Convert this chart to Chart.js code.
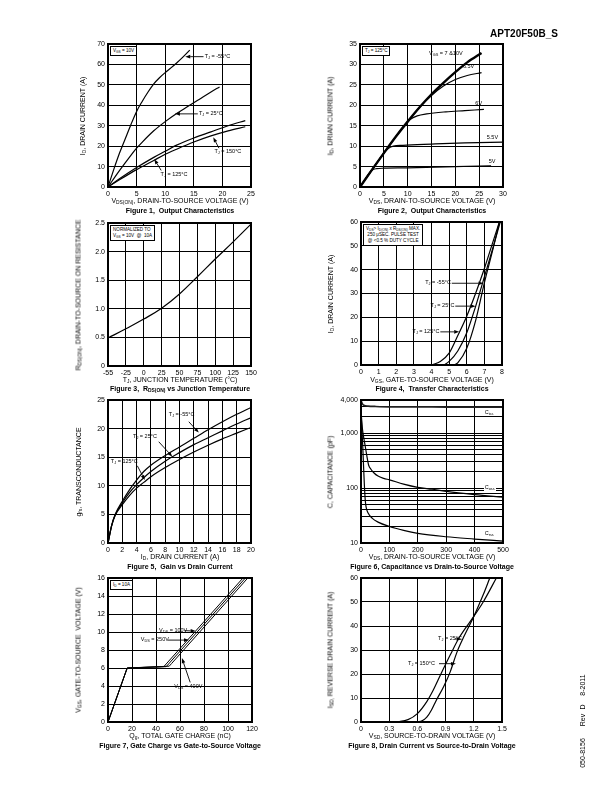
<!DOCTYPE html>
<html><head><meta charset="utf-8"><title>APT20F50B_S</title>
<script src="https://cdn.jsdelivr.net/npm/chart.js@4.4.1/dist/chart.umd.min.js"></script>
<style>
html,body{margin:0;padding:0;background:#fff}
#page{position:relative;width:612px;height:792px;overflow:hidden;font-family:"Liberation Sans",Arial,Helvetica,sans-serif;color:#000}
.t{position:absolute;white-space:nowrap;font-size:7px;line-height:1}
.t sub,.box sub{font-size:70%;vertical-align:-0.3em;line-height:0}
.b{font-weight:bold}
.n{font-size:5.5px}
.box{position:absolute;border:1px solid #000;background:#fff;font-size:4.6px;line-height:1.3;padding:1px 2px;white-space:nowrap}
canvas{position:absolute}
</style></head><body><div id="page"></div>
<script>
// ---------------- DATA ----------------
// Figure 1 - Output characteristics (VGS=10V)
const f1_vds_m55=[0,1,2,3,4,5,6,7,8,9,10,11,12,13,14.3];
const f1_id_m55 =[0,8.5,16.5,23.5,30.5,37,42,46.5,50.5,53.5,56,58.3,60.7,63.3,67];
const f1_vds_25 =[0,2,4,5,6,8,10,12,14,16,18,19.5];
const f1_id_25  =[0,8,15.5,19,22,27.5,32,36,39.5,43,46.5,49];
const f1_vds_125=[0,2,5,8,10,12,15,18,21,24];
const f1_id_125 =[0,4,9.5,14.5,17.5,20.5,24,27,30,32.5];
const f1_vds_150=[0,2,5,8,10,12,15,18,21,24];
const f1_id_150 =[0,3.5,8.5,13,16,18.5,22,25,27.5,29.5];
const f1_xticks=[0,5,10,15,20,25];
const f1_yticks=[0,10,20,30,40,50,60,70];
// Figure 2 - Output characteristics (TJ=125C)
const f2_vds_710=[0,2.5,5,7.5,10,12.5,15,17.5,20,22.5,25.5];
const f2_id_710 =[0,4.2,8.3,12.3,16,19.5,22.7,25.5,28.1,30.5,32.8];
const f2_vds_65 =[0,2.5,5,7.5,10,12.5,15,17.5,20,22.5,25.5];
const f2_id_65  =[0,4.2,8.3,12.3,16,19.5,22.4,24.7,26.3,27.3,28];
const f2_vds_6  =[0,2.5,5,7.5,9,10.5,12,14,18,22,26];
const f2_id_6   =[0,4.2,8.3,12.3,14.6,16.5,17.4,17.9,18.4,18.7,19];
const f2_vds_55 =[0,2.5,4,5,6,7,9,15,22,30];
const f2_id_55  =[0,4.2,6.7,8.3,9.5,10,10.2,10.5,10.8,11];
const f2_vds_5  =[0,2.5,3.5,5,10,20,27.5];
const f2_id_5   =[0,4.1,4.5,4.6,4.7,5,5.2];
const f2_xticks=[0,5,10,15,20,25,30];
const f2_yticks=[0,5,10,15,20,25,30,35];
// Figure 3 - RDS(on) vs junction temperature
const f3_temps=['-55','-25','0','25','50','75','100','125','150'];
const f3_rds  =[0.49,0.65,0.82,1.01,1.26,1.56,1.87,2.17,2.48];
const f3_yticks=[0,0.5,1,1.5,2,2.5];
const f3_ylabels=['0','0.5','1.0','1.5','2.0','2.5'];
// Figure 4 - Transfer characteristics
const f4_vgs_125=[4.0,4.5,5.0,5.5,6.0,6.5,7.0,7.5,7.85];
const f4_id_125 =[0,1.5,5,12.5,20.5,30,40.5,52,60];
const f4_vgs_25 =[4.7,5.0,5.5,6.0,6.5,7.0,7.5,7.9];
const f4_id_25  =[0,1.5,6,13.5,24.5,37,49.5,60];
const f4_vgs_m55=[5.3,5.5,6.0,6.5,7.0,7.5,7.85];
const f4_id_m55 =[0,1,7,18.5,34.5,49,60];
const f4_xticks=[0,1,2,3,4,5,6,7,8];
const f4_yticks=[0,10,20,30,40,50,60];
// Figure 5 - Gain vs drain current
const f5_id=[0,0.5,1,2,3,4,5,6,8,10,12,14,16,18,20];
const f5_gfs_m55=[0,3,5,7.3,9.3,11,12.5,13.6,15.3,16.8,18.3,19.8,21.2,22.5,23.7];
const f5_gfs_25 =[0,3,4.9,7,8.8,10.2,11.4,12.5,14.3,15.8,17.2,18.4,19.6,20.8,21.9];
const f5_gfs_125=[0,3,4.8,6.7,8.3,9.6,10.6,11.6,13.2,14.6,15.9,17.1,18.2,19.2,20.2];
const f5_xticks=[0,2,4,6,8,10,12,14,16,18,20];
const f5_yticks=[0,5,10,15,20,25];
// Figure 6 - Capacitance vs VDS
const f6_vds_ciss=[0,5,10,25,50,100,200,300,400,500];
const f6_ciss    =[3900,3400,3200,3100,3050,3000,3000,2980,2980,2970];
const f6_vds_coss=[0,5,10,15,20,27,35,45,60,80,100,150,200,250,300,400,500];
const f6_coss    =[2500,1200,800,575,400,260,220,190,165,150,141,118,103,95,87,76,68];
const f6_vds_crss=[0,3,6,9,12,15,18,25,40,60,100,150,200,300,400,500];
const f6_crss    =[2500,1200,600,250,110,60,45,35,28,24,20,17,15,13,11.8,10.8];
const f6_xticks=[0,100,200,300,400,500];
const f6_yticks=[10,20,30,40,50,60,70,80,90,100,200,300,400,500,600,700,800,900,1000,2000,3000,4000];
const f6_ylabelsAt={10:'10',100:'100',1000:'1,000',4000:'4,000'};
// Figure 7 - Gate charge
const f7_qg_100=[0,16,46.5,48.5,112.5];
const f7_vgs_100=[0,6,6.15,6.45,16];
const f7_qg_250=[0,16,48.5,50.5,114.5];
const f7_vgs_250=[0,6,6.15,6.45,16];
const f7_qg_400=[0,16,51,53,116.5];
const f7_vgs_400=[0,6,6.2,6.5,16];
const f7_xticks=[0,20,40,60,80,100,120];
const f7_yticks=[0,2,4,6,8,10,12,14,16];
// Figure 8 - Body diode
const f8_vsd_25 =[0.6,0.65,0.7,0.75,0.8,0.88,0.95,1.02,1.1,1.2,1.3,1.37];
const f8_isd_25 =[0,0.5,2,5,9,14.8,21,29,36,44,53,60];
const f8_vsd_150=[0.33,0.4,0.5,0.6,0.7,0.765,0.85,0.95,1.05,1.2,1.3,1.44];
const f8_isd_150=[0,0.2,1,3.5,8.5,13,20,28,35.5,44,50,60];
const f8_xticks=[0,0.3,0.6,0.9,1.2,1.5];
const f8_xlabels=['0','0.3','0.6','0.9','1.2','1.5'];
const f8_yticks=[0,10,20,30,40,50,60];

// ---------------- HELPERS ----------------
const page=document.getElementById('page');
const FONT='"Liberation Sans", Arial, sans-serif';
function txt(html,x,y,cls,tf,st){const d=document.createElement('div');d.className='t '+(cls||'');d.innerHTML=html;d.style.left=x+'px';d.style.top=y+'px';d.style.transform=tf||'translate(-50%,-50%)';if(st)Object.assign(d.style,st);page.appendChild(d);return d;}
const ROT='translate(-50%,-50%) rotate(-90deg)';
function box(html,x,y,align){const d=document.createElement('div');d.className='box';d.innerHTML=html;d.style.left=x+'px';d.style.top=y+'px';if(align)d.style.textAlign=align;page.appendChild(d);}
function pts(xs,ys){return xs.map((v,i)=>({x:v,y:ys[i]}));}

function mk(o){
  const pl=52,pt=8,pr=14,pb=16;
  const [l,t,r,b]=o.plot;
  const W=r-l+pl+pr,H=b-t+pt+pb,L=l-pl,T=t-pt;
  const cv=document.createElement('canvas');cv.width=W;cv.height=H;
  cv.style.left=L+'px';cv.style.top=T+'px';cv.style.width=W+'px';cv.style.height=H+'px';
  page.appendChild(cv);
  const ax=(a,isX)=>{
    const s={type:a.type||'linear',
      afterFit(sc){if(isX)sc.height=pb;else sc.width=pl;},
      ticks:{autoSkip:false,maxRotation:0,minRotation:0,padding:3,color:'#000',font:{family:FONT,size:7},
        callback:function(v,i){return a.labels?a.labels[i]:(a.labelMap?(a.labelMap[v]||''):String(v));}},
      grid:{color:'#000',lineWidth:1,drawTicks:false},
      border:{display:false}};
    if(a.type==='category'){s.labels=a.labels;s.offset=false;}
    else{s.min=a.min;s.max=a.max;s.afterBuildTicks=function(sc){sc.ticks=a.ticks.map(v=>({value:v}));};}
    return s;};
  const ch=new Chart(cv,{type:'line',
    data:{datasets:o.series.map(s=>({label:s.name,data:pts(s.x,s.y),borderColor:s.c||'#000',borderWidth:s.w||1.2,pointRadius:0,fill:false,tension:s.lin?0:0.4,cubicInterpolationMode:(s.lin||s.smooth)?'default':'monotone'}))},
    options:{responsive:false,animation:false,devicePixelRatio:1,
      layout:{padding:{left:0,top:pt,right:pr,bottom:0}},
      plugins:{legend:{display:false},tooltip:{enabled:false}},
      scales:{x:ax(o.x,true),y:ax(o.y,false)}},
    plugins:[{id:'deco',afterDraw(c){const g=c.ctx,A=c.chartArea,sx=c.scales.x,sy=c.scales.y;g.save();
      g.strokeStyle='#000';g.lineWidth=2;g.strokeRect(A.left,A.top,A.right-A.left,A.bottom-A.top);
      g.lineWidth=0.9;g.fillStyle='#000';
      (o.arrows||[]).forEach(q=>{const x1=sx.getPixelForValue(q[0]),y1=sy.getPixelForValue(q[1]),x2=sx.getPixelForValue(q[2]),y2=sy.getPixelForValue(q[3]);
        const an=Math.atan2(y2-y1,x2-x1),hl=5,hw=1.8,c1=Math.cos(an),s1=Math.sin(an);
        g.beginPath();g.moveTo(x1,y1);g.lineTo(x2-c1*hl,y2-s1*hl);g.stroke();
        g.beginPath();g.moveTo(x2,y2);g.lineTo(x2-c1*hl-s1*hw,y2-s1*hl+c1*hw);g.lineTo(x2-c1*hl+s1*hw,y2-s1*hl-c1*hw);g.closePath();g.fill();});
      g.restore();}}]
  });
  const sx=ch.scales.x,sy=ch.scales.y;
  (o.notes||[]).forEach(n=>{const d=txt(n.h,L+sx.getPixelForValue(n.x),T+sy.getPixelForValue(n.y),'n',n.a==='r'?'translate(-100%,-50%)':(n.a==='c'?'translate(-50%,-50%)':'translate(0,-50%)'));if(n.bg){d.style.background='#fff';d.style.padding='0 1px';}});
  return ch;
}
const TJ='T<sub>J</sub> = ';

// ---------------- FIGURE 1 ----------------
mk({plot:[108,44,251,187],
  x:{min:0,max:25,ticks:f1_xticks},y:{min:0,max:70,ticks:f1_yticks},
  series:[{x:f1_vds_m55,y:f1_id_m55},{x:f1_vds_25,y:f1_id_25},{x:f1_vds_125,y:f1_id_125},{x:f1_vds_150,y:f1_id_150}],
  arrows:[[16.7,63.8,13.5,63.8],[15.7,35.8,11.7,35.8],[19.4,19,18.4,24.3],[9.3,8.1,8.1,13.6]],
  notes:[{h:TJ+'-55°C',x:16.9,y:63.8},{h:TJ+'25°C',x:15.9,y:35.8},{h:TJ+'150°C',x:18.6,y:17},{h:TJ+'125°C',x:9.2,y:5.8}]});
box('V<sub>GS</sub> = 10V',110,46);
txt('I<sub>D</sub>, DRAIN CURRENT (A)',82,116,'',ROT);
txt('V<sub>DS(ON)</sub>, DRAIN-TO-SOURCE VOLTAGE (V)',180,200);
txt('Figure 1,&nbsp; Output Characteristics',180,210,'b');

// ---------------- FIGURE 2 ----------------
mk({plot:[360,44,503,187],
  x:{min:0,max:30,ticks:f2_xticks},y:{min:0,max:35,ticks:f2_yticks},
  series:[{x:f2_vds_5,y:f2_id_5},{x:f2_vds_55,y:f2_id_55},{x:f2_vds_6,y:f2_id_6},{x:f2_vds_65,y:f2_id_65},{x:f2_vds_710,y:f2_id_710,w:2.4}],
  notes:[{h:'V<sub>GS</sub> = 7 &amp;10V',x:14.5,y:32.5},{h:'6.5V',x:21.6,y:29.4},{h:'6V',x:24.2,y:20.2},{h:'5.5V',x:26.6,y:12},{h:'5V',x:27,y:6}]});
box(TJ+'125°C',362,46);
txt('I<sub>D</sub>, DRIAN CURRENT (A)',330,116,'',ROT);
txt('V<sub>DS</sub>, DRAIN-TO-SOURCE VOLTAGE (V)',432,200);
txt('Figure 2,&nbsp; Output Characteristics',432,210,'b');

// ---------------- FIGURE 3 ----------------
mk({plot:[108,223,251,366],
  x:{type:'category',labels:f3_temps},y:{min:0,max:2.5,ticks:f3_yticks,labels:f3_ylabels},
  series:[{x:f3_temps,y:f3_rds,smooth:1}]});
box('NORMALIZED TO<br>V<sub>GS</sub> = 10V &nbsp;@&nbsp; 10A',110,225);
txt('R<sub>DS(ON)</sub>, DRAIN-TO-SOURCE ON RESISTANCE',78,295,'',ROT);
txt('T<sub>J</sub>, JUNCTION TEMPERATURE (°C)',180,379);
txt('Figure 3,&nbsp; R<sub>DS(ON)</sub> vs Junction Temperature',180,388,'b');

// ---------------- FIGURE 4 ----------------
mk({plot:[361,222,502,365],
  x:{min:0,max:8,ticks:f4_xticks},y:{min:0,max:60,ticks:f4_yticks},
  series:[{x:f4_vgs_125,y:f4_id_125},{x:f4_vgs_25,y:f4_id_25},{x:f4_vgs_m55,y:f4_id_m55}],
  arrows:[[5.15,34.3,6.95,34.3],[5.35,24.7,6.5,24.7],[4.5,13.9,5.57,13.9]],
  notes:[{h:TJ+'-55°C',x:5.1,y:34.3,a:'r'},{h:TJ+'25°C',x:5.3,y:24.7,a:'r'},{h:TJ+'125°C',x:4.45,y:13.9,a:'r'}]});
box('V<sub>DS</sub>&gt; I<sub>D(ON)</sub> x R<sub>DS(ON)</sub> MAX.<br>250 μSEC. PULSE TEST<br>@ &lt;0.5 % DUTY CYCLE',363,224,'center');
txt('I<sub>D</sub>, DRAIN CURRENT (A)',330,294,'',ROT);
txt('V<sub>GS</sub>, GATE-TO-SOURCE VOLTAGE (V)',432,379);
txt('Figure 4,&nbsp; Transfer Characteristics',432,388,'b');

// ---------------- FIGURE 5 ----------------
mk({plot:[108,400,251,543],
  x:{min:0,max:20,ticks:f5_xticks},y:{min:0,max:25,ticks:f5_yticks},
  series:[{x:f5_id,y:f5_gfs_m55},{x:f5_id,y:f5_gfs_25},{x:f5_id,y:f5_gfs_125}],
  arrows:[[11.3,21.2,12.7,19.3],[7.1,17.7,9.0,15.1],[4.1,13.5,5.15,11.0]],
  notes:[{h:TJ+'-55°C',x:8.5,y:22.4},{h:TJ+'25°C',x:3.5,y:18.5},{h:TJ+'125°C',x:0.4,y:14.2}]});
txt('g<sub>fs</sub>, TRANSCONDUCTANCE',78,472,'',ROT);
txt('I<sub>D</sub>, DRAIN CURRENT (A)',180,556);
txt('Figure 5,&nbsp; Gain vs Drain Current',180,566,'b');

// ---------------- FIGURE 6 ----------------
mk({plot:[361,400,503,543],
  x:{min:0,max:500,ticks:f6_xticks},y:{type:'logarithmic',min:10,max:4000,ticks:f6_yticks,labelMap:f6_ylabelsAt},
  series:[{x:f6_vds_ciss,y:f6_ciss,c:'#222',w:1.7},{x:f6_vds_coss,y:f6_coss},{x:f6_vds_crss,y:f6_crss}],
  notes:[{h:'C<sub>iss</sub>',x:432,y:2350,bg:1},{h:'C<sub>oss</sub>',x:432,y:100,bg:1},{h:'C<sub>rss</sub>',x:432,y:14.7,bg:1}]});
txt('C, CAPACITANCE (pF)',330,472,'',ROT);
txt('V<sub>DS</sub>, DRAIN-TO-SOURCE VOLTAGE (V)',432,556);
txt('Figure 6, Capacitance vs Drain-to-Source Voltage',432,566,'b');

// ---------------- FIGURE 7 ----------------
mk({plot:[108,578,252,722],
  x:{min:0,max:120,ticks:f7_xticks},y:{min:0,max:16,ticks:f7_yticks},
  series:[{x:f7_qg_100,y:f7_vgs_100,w:1,lin:1},{x:f7_qg_250,y:f7_vgs_250,w:1,lin:1},{x:f7_qg_400,y:f7_vgs_400,w:1,lin:1}],
  arrows:[[64,10.15,73,10.1],[50,9.1,67.5,9.1],[68.5,4.4,61.6,7.1]],
  notes:[{h:'V<sub>DS</sub> = 100V',x:42.6,y:10.15},{h:'V<sub>DS</sub> = 250V',x:27.3,y:9.1},{h:'V<sub>DS</sub> = 400V',x:55.2,y:3.9}]});
box('I<sub>D</sub> = 10A',110,580);
txt('V<sub>GS</sub>, GATE-TO-SOURCE&nbsp; VOLTAGE (V)',78,650,'',ROT);
txt('Q<sub>g</sub>, TOTAL GATE CHARGE (nC)',180,735);
txt('Figure 7, Gate Charge vs Gate-to-Source Voltage',180,745,'b');

// ---------------- FIGURE 8 ----------------
mk({plot:[361,578,502,722],
  x:{min:0,max:1.5,ticks:f8_xticks,labels:f8_xlabels},y:{min:0,max:60,ticks:f8_yticks},
  series:[{x:f8_vsd_25,y:f8_isd_25},{x:f8_vsd_150,y:f8_isd_150}],
  arrows:[[0.995,34.6,1.07,34.6],[0.83,24.3,1.01,24.3]],
  notes:[{h:TJ+'25°C',x:0.82,y:34.6},{h:TJ+'150°C',x:0.5,y:24.3}]});
txt('I<sub>SD,</sub> REVERSE DRAIN CURRENT (A)',330,650,'',ROT);
txt('V<sub>SD</sub>, SOURCE-TO-DRAIN VOLTAGE (V)',432,735);
txt('Figure 8, Drain Current vs Source-to-Drain Voltage',432,745,'b');

// ---------------- PAGE TEXT ----------------
txt('APT20F50B_S',524,34,'b','translate(-50%,-50%)',{fontSize:'10px'});
txt('050-8156',582,753,'',ROT);
txt('Rev',582,720,'',ROT);
txt('D',582,707,'',ROT);
txt('8-2011',582,685,'',ROT);
</script></body></html>
